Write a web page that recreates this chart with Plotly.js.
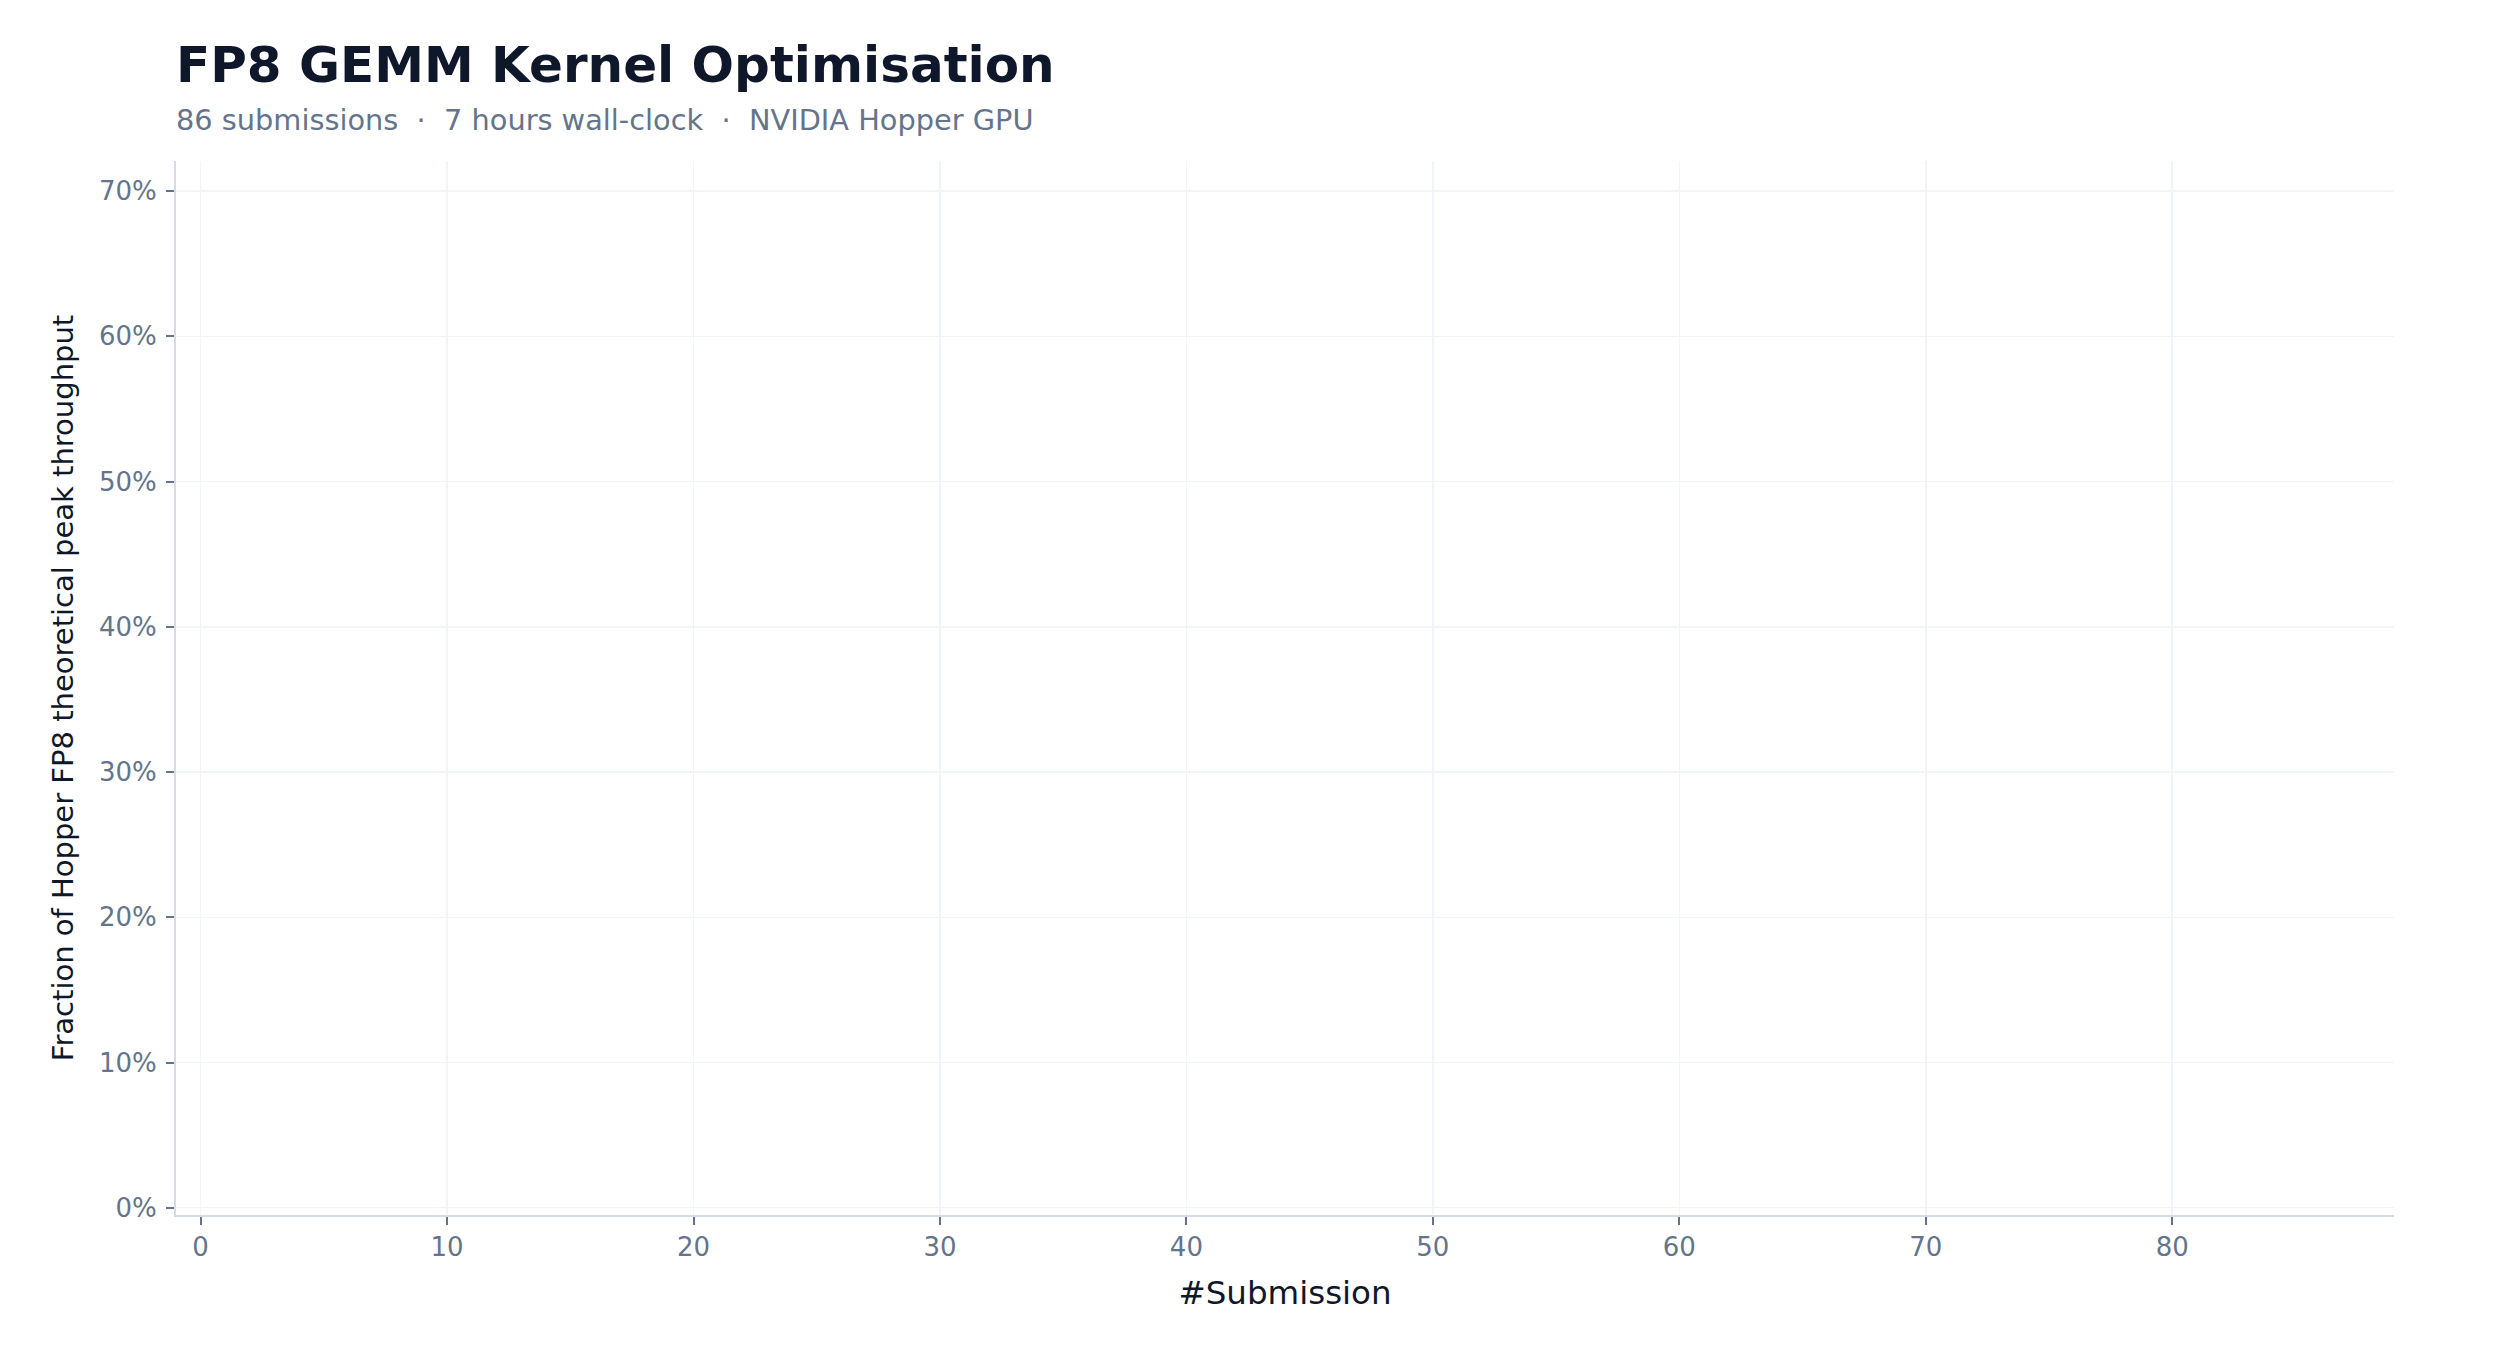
<!DOCTYPE html>
<html>
<head>
<meta charset="utf-8">
<script src="https://cdn.plot.ly/plotly-3.0.1.min.js"></script>
<style>
  html, body { margin: 0; padding: 0; background: #ffffff; }
  #chart { width: 2520px; height: 1350px; }
</style>
</head>
<body>
<div id="chart"></div>
<script>
// ---- Data (the reference chart shows an empty plot area) ----
const submissions = [];          // #Submission values
const peakFraction = [];         // fraction of theoretical peak throughput
const xTickVals = [0, 10, 20, 30, 40, 50, 60, 70, 80];
const yTickVals = [0, 0.1, 0.2, 0.3, 0.4, 0.5, 0.6, 0.7];

const chartTitle = "FP8 GEMM Kernel Optimisation";
const chartSubtitle = "86 submissions  ·  7 hours wall-clock  ·  NVIDIA Hopper GPU";
const xTitle = "#Submission";
const yTitle = "Fraction of Hopper FP8 theoretical peak throughput";

const FONT = "DejaVu Sans, sans-serif";
const SLATE = "#64748b";
const DARK = "#0f172a";

const traces = [{
  type: "scatter",
  mode: "lines+markers",
  x: submissions,
  y: peakFraction,
  showlegend: false,
  hoverinfo: "skip"
}];

const layout = {
  width: 2520,
  height: 1350,
  paper_bgcolor: "#ffffff",
  plot_bgcolor: "#ffffff",
  margin: { l: 176, r: 126, t: 161, b: 135, pad: 0 },
  font: { family: FONT, color: SLATE },
  showlegend: false,
  title: {
    text: "<b>" + chartTitle + "</b>",
    font: { family: FONT, size: 50, color: DARK },
    x: 0, xref: "paper", xanchor: "left",
    y: 1 - 64 / 1350, yref: "container", yanchor: "middle"
  },
  annotations: [{
    text: chartSubtitle,
    xref: "paper", yref: "paper",
    x: -0.001, xanchor: "left",
    y: (1215 - 120) / 1054, yanchor: "middle",
    showarrow: false,
    font: { family: FONT, size: 28.8, color: SLATE }
  }],
  xaxis: {
    range: [-1, 89],
    tickmode: "array",
    tickvals: xTickVals,
    ticktext: xTickVals.map(String),
    showgrid: true,
    gridcolor: "#f1f5f9",
    gridwidth: 1.5,
    zeroline: false,
    showline: true,
    linecolor: "#d5dce6",
    linewidth: 2,
    ticks: "outside",
    ticklen: 8,
    tickwidth: 2,
    tickcolor: SLATE,
    tickfont: { family: FONT, size: 26, color: SLATE },
    title: { text: xTitle, font: { family: FONT, size: 32.5, color: DARK }, standoff: 20 }
  },
  yaxis: {
    range: [-0.005, 0.7207],
    tickmode: "array",
    tickvals: yTickVals,
    tickformat: ".0%",
    showgrid: true,
    gridcolor: "#f1f5f9",
    gridwidth: 1.5,
    zeroline: false,
    showline: true,
    linecolor: "#d5dce6",
    linewidth: 2,
    ticks: "outside",
    ticklen: 8,
    tickwidth: 2,
    tickcolor: SLATE,
    ticklabelstandoff: 4,
    tickfont: { family: FONT, size: 26, color: SLATE },
    title: { text: yTitle, font: { family: FONT, size: 29, color: DARK }, standoff: 17 }
  }
};

Plotly.newPlot("chart", traces, layout, { staticPlot: true, displayModeBar: false });
</script>
</body>
</html>
